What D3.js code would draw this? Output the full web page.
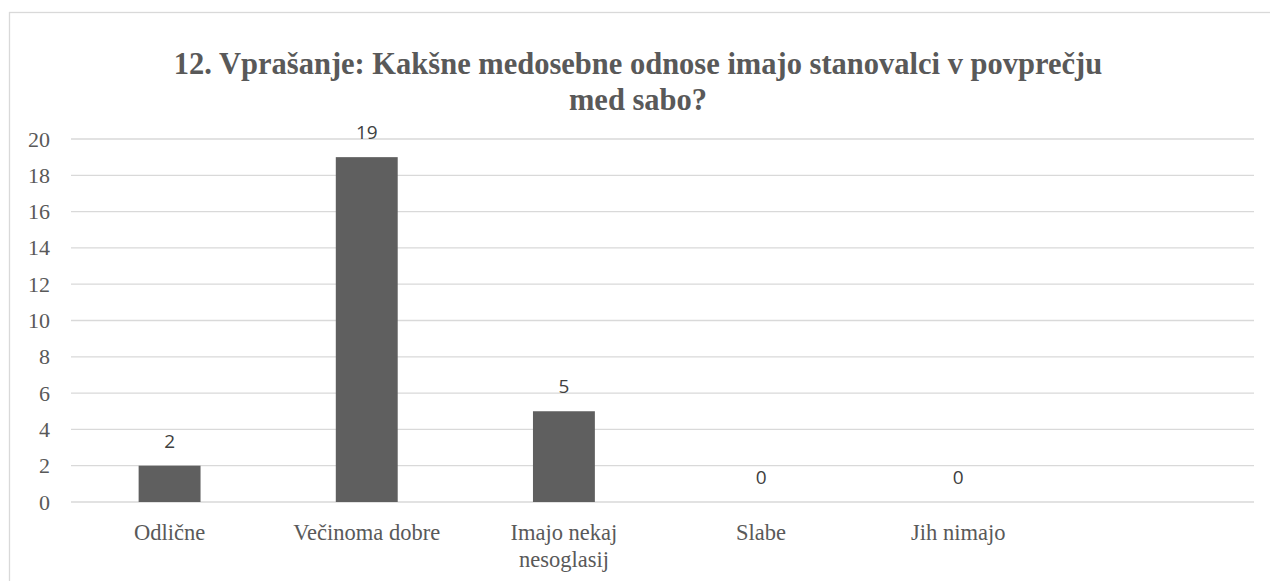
<!DOCTYPE html>
<html>
<head>
<meta charset="utf-8">
<script src="https://cdn.jsdelivr.net/npm/d3@7"></script>
<style>
  body { margin: 0; background: #fff; }
  svg { display: block; }
  .serif { font-family: "Times New Roman", "Liberation Serif", Tinos, "DejaVu Serif", serif; }
</style>
</head>
<body>
<div id="chart"></div>
<script>
// Chart data
const categories = ["Odlične", "Večinoma dobre", "Imajo nekaj nesoglasij", "Slabe", "Jih nimajo"];
const values = [2, 19, 5, 0, 0];
const yTicks = [0, 2, 4, 6, 8, 10, 12, 14, 16, 18, 20];
const titleLines = ["12. Vprašanje: Kakšne medosebne odnose imajo stanovalci v povprečju", "med sabo?"];

const W = 1270, H = 581;
const margin = { top: 139, right: 16, bottom: 79, left: 71 };
const width = W - margin.left - margin.right;
const height = H - margin.top - margin.bottom;

const svg = d3.select("#chart")
    .append("svg")
    .attr("width", W)
    .attr("height", H);

// Chart area border (runs off the right and bottom edges)
svg.append("rect")
    .attr("x", 9.5)
    .attr("y", 12.5)
    .attr("width", W + 20)
    .attr("height", H + 20)
    .attr("fill", "none")
    .attr("stroke", "#d9d9d9")
    .attr("stroke-width", 1.3);

// Title
svg.append("g")
    .selectAll("text")
    .data(titleLines)
    .enter()
    .append("text")
    .attr("class", "serif")
    .attr("x", 638)
    .attr("y", (d, i) => 74 + i * 36)
    .attr("text-anchor", "middle")
    .style("font-weight", "bold")
    .style("font-size", "30.5px")
    .style("fill", "#595959")
    .text(d => d);

const g = svg.append("g")
    .attr("transform", "translate(" + margin.left + "," + margin.top + ")");

// Excel leaves one empty slot on the right
const x = d3.scaleBand()
    .domain(categories.concat([""]))
    .range([0, width])
    .padding(0);

const y = d3.scaleLinear()
    .domain([0, 20])
    .range([height, 0]);

// Gridlines
g.selectAll(".grid")
    .data(yTicks)
    .enter()
    .append("line")
    .attr("class", "grid")
    .attr("x1", 0)
    .attr("x2", width)
    .attr("y1", d => y(d))
    .attr("y2", d => y(d))
    .attr("stroke", "#d9d9d9")
    .attr("stroke-width", 1.3);

// Y axis labels
const yAxis = g.append("g")
    .call(d3.axisLeft(y).tickValues(yTicks).tickSize(0).tickPadding(21));
yAxis.select(".domain").remove();
yAxis.attr("font-family", null).attr("font-size", null);
yAxis.selectAll("text")
    .attr("class", "serif")
    .style("font-size", "22px")
    .style("fill", "#595959");

// X axis labels
const xAxis = g.append("g")
    .attr("transform", "translate(0," + height + ")")
    .call(d3.axisBottom(x).tickSize(0).tickPadding(22));
xAxis.select(".domain").remove();
xAxis.attr("font-family", null).attr("font-size", null);
xAxis.selectAll("text")
    .attr("class", "serif")
    .style("font-size", "22.5px")
    .style("fill", "#595959")
    .call(wrap, x.bandwidth());

// Bars
const barW = x.bandwidth() * 0.314;
g.selectAll(".bar")
    .data(values)
    .enter()
    .append("rect")
    .attr("class", "bar")
    .attr("x", (d, i) => x(categories[i]) + (x.bandwidth() - barW) / 2)
    .attr("y", d => y(d))
    .attr("width", barW)
    .attr("height", d => height - y(d))
    .attr("fill", "#5f5f5f");

// Value labels
g.selectAll(".value-label")
    .data(values)
    .enter()
    .append("text")
    .attr("class", "value-label")
    .attr("x", (d, i) => x(categories[i]) + x.bandwidth() / 2)
    .attr("y", d => y(d) - 18)
    .attr("text-anchor", "middle")
    .style("font-family", "'Open Sans', sans-serif")
    .style("font-size", "19px")
    .style("fill", "#404040")
    .text(d => d);

function wrap(text, maxWidth) {
    text.each(function() {
        const t = d3.select(this);
        const words = t.text().split(/\s+/);
        const yy = t.attr("y");
        const dy = parseFloat(t.attr("dy"));
        let line = [];
        let lineNo = 0;
        let tspan = t.text(null).append("tspan").attr("x", 0).attr("y", yy).attr("dy", dy + "em");
        words.forEach(w => {
            line.push(w);
            tspan.text(line.join(" "));
            if (tspan.node().getComputedTextLength() > maxWidth && line.length > 1) {
                line.pop();
                tspan.text(line.join(" "));
                line = [w];
                lineNo++;
                tspan = t.append("tspan").attr("x", 0).attr("y", yy)
                    .attr("dy", (dy + lineNo * 1.2) + "em").text(w);
            }
        });
    });
}
</script>
</body>
</html>
